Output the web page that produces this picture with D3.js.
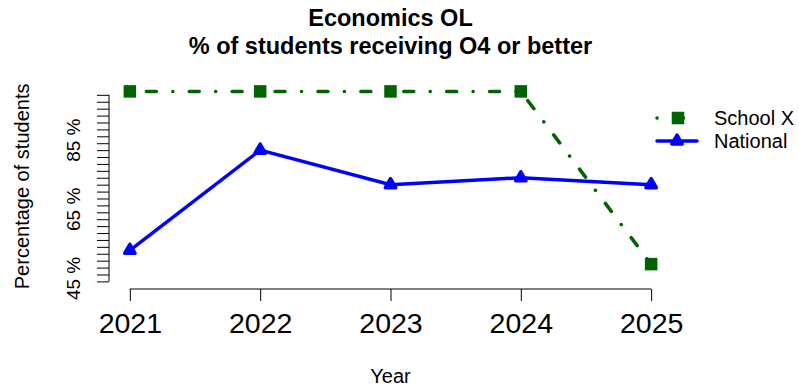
<!DOCTYPE html>
<html lang="en">
<head>
    <meta charset="UTF-8" />
    <title>Economics OL</title>
    <script src="https://d3js.org/d3.v7.min.js"></script>
    <style>
        body {
            margin: 0;
            background: #fff;
        }
        svg text {
            font-family: "Liberation Sans", Arial, sans-serif;
            fill: #000;
        }
    </style>
</head>
<body>
<svg id="chart"></svg>

<script>
    // data
    const years = [2021, 2022, 2023, 2024, 2025];
    const schoolX = [100, 100, 100, 100, 50];
    const national = [54, 83, 73, 75, 73];
    const yTicks = [45, 47, 49, 51, 53, 55, 57, 59, 61, 63, 65, 67, 69, 71, 73, 75, 77, 79, 81, 83, 85, 87, 89, 91, 93, 95, 97, 99];
    const yTickLabels = [45, 65, 85];
    const seriesNames = ["School X", "National"];
    const seriesColors = ["#006400", "#0000ff"];

    const width = 799;
    const height = 389;
    const plot = { left: 109, right: 672, top: 83.8, bottom: 289 };

    const svg = d3.select("#chart")
        .attr("width", width)
        .attr("height", height);

    // R style 4% padding around the data range
    const x = d3.scaleLinear()
        .domain([2021 - 0.16, 2025 + 0.16])
        .range([plot.left, plot.right]);

    const y = d3.scaleLinear()
        .domain([42.8, 102.2])
        .range([plot.bottom, plot.top]);

    // title
    svg.append("text")
        .attr("x", (plot.left + plot.right) / 2)
        .attr("y", 26)
        .attr("text-anchor", "middle")
        .attr("font-size", 23.5)
        .attr("font-weight", "bold")
        .text("Economics OL");

    svg.append("text")
        .attr("x", (plot.left + plot.right) / 2)
        .attr("y", 54)
        .attr("text-anchor", "middle")
        .attr("font-size", 23.5)
        .attr("font-weight", "bold")
        .text("% of students receiving O4 or better");

    // x axis
    const xAxis = svg.append("g")
        .attr("transform", `translate(0,${plot.bottom})`)
        .call(d3.axisBottom(x).tickValues(years).tickSize(12).tickFormat(d3.format("d")));
    xAxis.select(".domain").remove();
    xAxis.append("line")
        .attr("x1", x(years[0]))
        .attr("x2", x(years[years.length - 1]))
        .attr("stroke", "#000");
    xAxis.selectAll(".tick line").attr("stroke", "#000");
    xAxis.selectAll(".tick text")
        .attr("y", 44)
        .attr("dy", 0)
        .attr("font-size", 28.5)
        .attr("font-family", "Liberation Sans, Arial, sans-serif")
        .attr("fill", "#000");

    // y axis
    const yAxis = svg.append("g")
        .attr("transform", `translate(${plot.left},0)`)
        .call(d3.axisLeft(y).tickValues(yTicks).tickSize(12).tickFormat(""));
    yAxis.select(".domain").remove();
    yAxis.append("line")
        .attr("y1", y(yTicks[0]))
        .attr("y2", y(yTicks[yTicks.length - 1]))
        .attr("stroke", "#000");
    yAxis.selectAll(".tick line").attr("stroke", "#000");

    svg.append("g")
        .selectAll("text")
        .data(yTickLabels)
        .join("text")
        .attr("transform", d => `translate(80,${y(d) - 3}) rotate(-90)`)
        .attr("text-anchor", "middle")
        .attr("font-size", 19)
        .text(d => d + " %");

    // axis titles
    svg.append("text")
        .attr("transform", `translate(29,${(plot.top + plot.bottom) / 2}) rotate(-90)`)
        .attr("text-anchor", "middle")
        .attr("font-size", 20)
        .text("Percentage of students");

    svg.append("text")
        .attr("x", (plot.left + plot.right) / 2)
        .attr("y", 383)
        .attr("text-anchor", "middle")
        .attr("font-size", 20)
        .text("Year");

    const dotdash = "0.1 16.4 10 16.4";

    const line = d3.line()
        .x((d, i) => x(years[i]))
        .y(d => y(d));

    function square(g, cx, cy, color) {
        g.append("rect")
            .attr("x", cx - 4.5)
            .attr("y", cy - 4.5)
            .attr("width", 9)
            .attr("height", 9)
            .attr("fill", color)
            .attr("stroke", color)
            .attr("stroke-width", 3.5);
    }

    function triangle(g, cx, cy, color) {
        const r = 6;
        g.append("path")
            .attr("d", `M${cx},${cy - r}L${cx + r * 0.866},${cy + r / 2}L${cx - r * 0.866},${cy + r / 2}Z`)
            .attr("fill", color)
            .attr("stroke", color)
            .attr("stroke-width", 3.5)
            .attr("stroke-linejoin", "round");
    }

    // School X
    const gSchool = svg.append("g");
    gSchool.append("path")
        .datum(schoolX)
        .attr("d", line)
        .attr("fill", "none")
        .attr("stroke", seriesColors[0])
        .attr("stroke-width", 3.5)
        .attr("stroke-linecap", "round")
        .attr("stroke-dasharray", dotdash);
    schoolX.forEach((v, i) => square(gSchool, x(years[i]), y(v), seriesColors[0]));

    // National
    const gNat = svg.append("g");
    gNat.append("path")
        .datum(national)
        .attr("d", line)
        .attr("fill", "none")
        .attr("stroke", seriesColors[1])
        .attr("stroke-width", 3.5)
        .attr("stroke-linecap", "round");
    national.forEach((v, i) => triangle(gNat, x(years[i]), y(v), seriesColors[1]));

    // legend
    const legendRows = [118, 141];
    const legend = svg.append("g");
    seriesNames.forEach((name, i) => {
        const ly = legendRows[i];
        legend.append("line")
            .attr("x1", 657)
            .attr("x2", 697)
            .attr("y1", ly)
            .attr("y2", ly)
            .attr("stroke", seriesColors[i])
            .attr("stroke-width", 3.5)
            .attr("stroke-linecap", "round")
            .attr("stroke-dasharray", i === 0 ? dotdash : null);
        if (i === 0) square(legend, 678, ly, seriesColors[i]);
        else triangle(legend, 677, ly, seriesColors[i]);
        legend.append("text")
            .attr("x", 714)
            .attr("y", ly)
            .attr("dy", "0.35em")
            .attr("font-size", 20)
            .text(name);
    });
</script>
</body>
</html>
